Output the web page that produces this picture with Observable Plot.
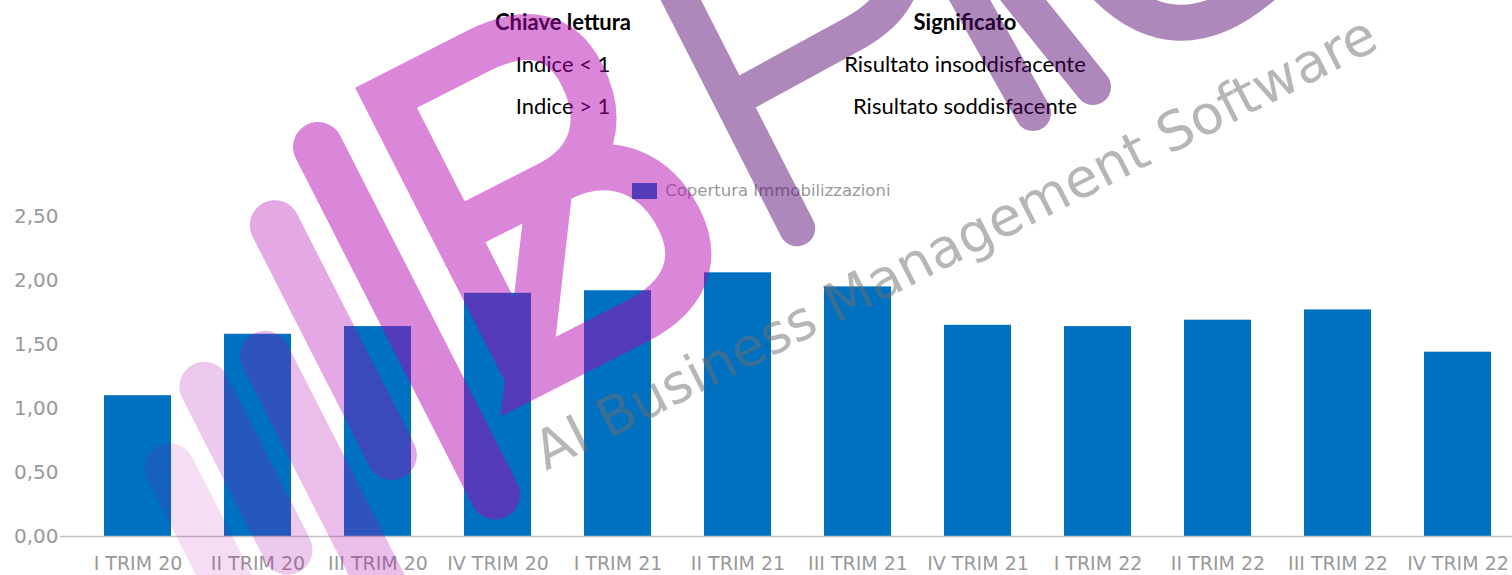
<!DOCTYPE html>
<html><head><meta charset="utf-8">
<script src="https://cdn.jsdelivr.net/npm/d3@7"></script>
<script src="https://cdn.jsdelivr.net/npm/@observablehq/plot@0.6"></script>
<style>
body{margin:0;background:#fff;}
#root{position:relative;width:1512px;height:575px;overflow:hidden;background:#fff;}
.cell{position:absolute;width:360px;text-align:center;font-family:Lato,sans-serif;font-size:22px;line-height:24px;color:#000;white-space:nowrap;}
.hdr{font-weight:700;}
#legend{position:absolute;left:632px;top:174px;}
#chart{position:absolute;left:0;top:200px;}
#wm{position:absolute;left:0;top:0;pointer-events:none;}
</style></head><body><div id="root"></div>
<script>
const quarters = ["I TRIM 20","II TRIM 20","III TRIM 20","IV TRIM 20","I TRIM 21","II TRIM 21","III TRIM 21","IV TRIM 21","I TRIM 22","II TRIM 22","III TRIM 22","IV TRIM 22"];
const values = [1.10,1.58,1.64,1.90,1.92,2.06,1.95,1.65,1.64,1.69,1.77,1.44];
const seriesName = "Copertura Immobilizzazioni";
const yTicks = [0,0.5,1,1.5,2,2.5];
const tableHeaders = ["Chiave lettura","Significato"];
const tableKeys = ["Indice < 1","Indice > 1"];
const tableMeanings = ["Risultato insoddisfacente","Risultato soddisfacente"];
const watermarkText = "AI Business Management Software";

const root = document.getElementById("root");

// reading-key table
const colCenters = [563, 965];
const rowCenters = [22, 64, 106];
function cell(text, cx, cy, cls){
  const d = document.createElement("div");
  d.className = "cell" + (cls ? " " + cls : "");
  d.textContent = text;
  d.style.left = (cx - 180) + "px";
  d.style.top = (cy - 12) + "px";
  root.appendChild(d);
}
tableHeaders.forEach((t,i)=>cell(t, colCenters[i], rowCenters[0], "hdr"));
tableKeys.forEach((t,i)=>cell(t, colCenters[0], rowCenters[i+1]));
tableMeanings.forEach((t,i)=>cell(t, colCenters[1], rowCenters[i+1]));

// legend
const leg = Plot.legend({
  color:{type:"ordinal", domain:[seriesName], range:["#0070C0"]},
  swatchWidth:25, swatchHeight:16,
  style:{fontFamily:"DejaVu Sans", fontSize:"16.5px", color:"#999", margin:0}
});
leg.id = "legend";
root.appendChild(leg);

// chart
const fmt = d3.formatLocale({decimal:",", thousands:".", grouping:[3], currency:["€",""]}).format(".2f");
const data = quarters.map((q,i)=>({q, v: values[i]}));
const chart = Plot.plot({
  width:1512, height:375, marginTop:16, marginBottom:39, marginLeft:60, marginRight:0,
  style:{fontFamily:"DejaVu Sans", fontSize:"19.5px", color:"#999", background:"transparent", overflow:"visible"},
  x:{domain:quarters, range:[77.5,1517.5], paddingInner:0.44, paddingOuter:0.22},
  y:{domain:[0,2.5]},
  marks:[
    Plot.barY(data,{x:"q", y:"v", fill:"#0070C0"}),
    Plot.ruleY([0],{stroke:"#c4c4c4", strokeWidth:1.5}),
    Plot.axisX({tickSize:0, tickPadding:20, label:null, fill:"#999", fontSize:19}),
    Plot.axisY(yTicks,{tickSize:0, tickPadding:2, tickFormat:fmt, label:null, fill:"#999", fontSize:20})
  ]
});
chart.id = "chart";
root.appendChild(chart);

// watermark overlay (decoration drawn over the chart, as in the reference)
const wm = d3.create("svg").attr("id","wm").attr("width",1512).attr("height",575);
const logo = wm.append("g").attr("transform","translate(318,147) rotate(-27)")
  .attr("fill","none").attr("stroke-linecap","round");
const pink = "rgb(177,0,177)", plum = "rgb(83,2,108)";
const logoBars = [[-278,219,430,0.13],[-210,162,345,0.21],[-142,162,480,0.26],[-74,50,308,0.34],[0,0,390,0.47]];
logoBars.forEach(([x,y1,y2,o])=>logo.append("line").attr("x1",x).attr("x2",x).attr("y1",y1).attr("y2",y2)
  .attr("stroke",pink).attr("stroke-opacity",o).attr("stroke-width",50));
logo.append("path")
  .attr("d","M83,300 L83,-13 L185,-13 C240,-13 268,10 268,55 C268,105 240,138 190,138 L83,138 M190,138 L200,138 C262,138 289,180 289,228 C289,275 258,300 205,300 L83,300 Z")
  .attr("stroke",pink).attr("stroke-opacity",0.47).attr("stroke-width",46).attr("stroke-linejoin","miter");
logo.append("path")
  .attr("d","M390,290 L390,-13 L520,-13 C585,-13 615,25 615,65 C615,110 585,140 530,142 L390,146")
  .attr("stroke",plum).attr("stroke-opacity",0.47).attr("stroke-width",36).attr("stroke-linejoin","round");
const mg = wm.append("g").attr("fill","none").attr("stroke",plum).attr("stroke-opacity",0.47).attr("stroke-linecap","round");
mg.append("path").attr("d","M950,-35 L1033,113 M995,-35 L1093,87").attr("stroke-width",36);
mg.append("path").attr("d","M1095,-25 Q1175,68 1270,-20").attr("stroke-width",36);
wm.append("text").attr("transform","translate(546,471) rotate(-26.9)")
  .attr("font-family","DejaVu Sans").attr("font-size",54).attr("fill","#6e6e6e").attr("fill-opacity",0.5)
  .text(watermarkText);
root.appendChild(wm.node());
</script></body></html>
